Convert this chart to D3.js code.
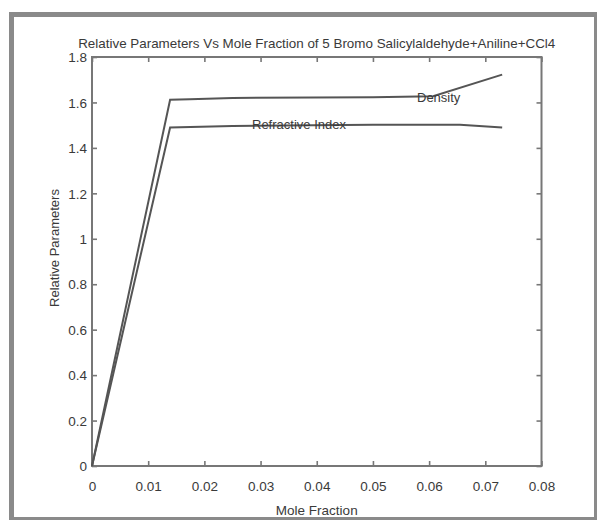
<!DOCTYPE html>
<html>
<head>
<meta charset="utf-8">
<script src="https://cdn.jsdelivr.net/npm/d3@7"></script>
<style>
  body { margin: 0; background: #fff; }
  svg { display: block; }
  text { font-family: "Liberation Sans", Arial, sans-serif; fill: #3a3a3a; }
</style>
</head>
<body>
<svg width="597" height="523"></svg>
<script>
const W = 597, H = 523;

// data
var densityX = [0, 0.0139, 0.0174, 0.025, 0.050, 0.0607, 0.0730];
var densityY = [0, 1.612, 1.6145, 1.620, 1.6233, 1.627, 1.7225];
var refrX = [0, 0.0139, 0.025, 0.050, 0.0655, 0.0730];
var refrY = [0, 1.490, 1.496, 1.502, 1.502, 1.490];
var xTicks = [0, 0.01, 0.02, 0.03, 0.04, 0.05, 0.06, 0.07, 0.08];
var xTickLabels = ['0', '0.01', '0.02', '0.03', '0.04', '0.05', '0.06', '0.07', '0.08'];
var yTicks = [0, 0.2, 0.4, 0.6, 0.8, 1, 1.2, 1.4, 1.6, 1.8];
var yTickLabels = ['0', '0.2', '0.4', '0.6', '0.8', '1', '1.2', '1.4', '1.6', '1.8'];

var svg = d3.select('svg');

// screenshot frame
svg.append('rect').attr('x', 0).attr('y', 0).attr('width', W).attr('height', H).attr('fill', '#fff');
svg.append('rect').attr('x', 9).attr('y', 12).attr('width', 5).attr('height', 508).attr('fill', '#8a8a8a');
svg.append('rect').attr('x', 9).attr('y', 12).attr('width', 588).attr('height', 5).attr('fill', '#8a8a8a');
svg.append('rect').attr('x', 594).attr('y', 12).attr('width', 3).attr('height', 508).attr('fill', '#8a8a8a');
svg.append('rect').attr('x', 9).attr('y', 517).attr('width', 588).attr('height', 3).attr('fill', '#8a8a8a');

const pL = 92, pR = 541.5, pT = 57, pB = 466;

var x = d3.scaleLinear().domain([0, 0.08]).range([pL, pR]);
var y = d3.scaleLinear().domain([0, 1.8]).range([pB, pT]);

// axes (matlab style: ticks inward, box on)
var tickLen = 5;
var xAxis = svg.append('g').attr('transform', `translate(0,${pB})`)
  .call(d3.axisBottom(x).tickValues(xTicks).tickSizeInner(-tickLen).tickSizeOuter(0)
    .tickPadding(15).tickFormat((d, i) => xTickLabels[i]));
var yAxis = svg.append('g').attr('transform', `translate(${pL},0)`)
  .call(d3.axisLeft(y).tickValues(yTicks).tickSizeInner(-tickLen).tickSizeOuter(0)
    .tickPadding(5).tickFormat((d, i) => yTickLabels[i]));
var xTop = svg.append('g').attr('transform', `translate(0,${pT})`)
  .call(d3.axisTop(x).tickValues(xTicks).tickSizeInner(-tickLen).tickSizeOuter(0).tickFormat(''));
var yRight = svg.append('g').attr('transform', `translate(${pR},0)`)
  .call(d3.axisRight(y).tickValues(yTicks).tickSizeInner(-tickLen).tickSizeOuter(0).tickFormat(''));

[xAxis, yAxis, xTop, yRight].forEach(g => {
  g.select('.domain').remove();
  g.selectAll('line').attr('stroke', '#777').attr('stroke-width', 1.6);
  g.selectAll('text').attr('font-size', 13.5).attr('fill', '#444')
    .attr('font-family', '"Liberation Sans", Arial, sans-serif');
});
yAxis.selectAll('text').attr('dy', '0.35em');

svg.append('rect').attr('x', pL).attr('y', pT).attr('width', pR - pL).attr('height', pB - pT)
  .attr('fill', 'none').attr('stroke', '#777').attr('stroke-width', 2);

// lines
var line = d3.line().x(d => x(d[0])).y(d => y(d[1]));
var density = densityX.map((d, i) => [d, densityY[i]]);
var refr = refrX.map((d, i) => [d, refrY[i]]);

svg.append('path').datum(density).attr('d', line)
  .attr('fill', 'none').attr('stroke', '#555').attr('stroke-width', 2);
svg.append('path').datum(refr).attr('d', line)
  .attr('fill', 'none').attr('stroke', '#555').attr('stroke-width', 2);

// in-plot labels
svg.append('text').attr('x', 417).attr('y', 102).attr('font-size', 13).text('Density');
svg.append('text').attr('x', 252).attr('y', 129).attr('font-size', 13).text('Refractive Index');

// titles
svg.append('text').attr('x', (pL + pR) / 2).attr('y', 48).attr('text-anchor', 'middle')
  .attr('font-size', 13.4).text('Relative Parameters Vs Mole Fraction of 5 Bromo Salicylaldehyde+Aniline+CCl4');
svg.append('text').attr('x', (pL + pR) / 2).attr('y', 515).attr('text-anchor', 'middle')
  .attr('font-size', 13.5).text('Mole Fraction');
svg.append('text').attr('transform', 'translate(59,248) rotate(-90)').attr('text-anchor', 'middle')
  .attr('font-size', 13).text('Relative Parameters');
</script>
</body>
</html>
